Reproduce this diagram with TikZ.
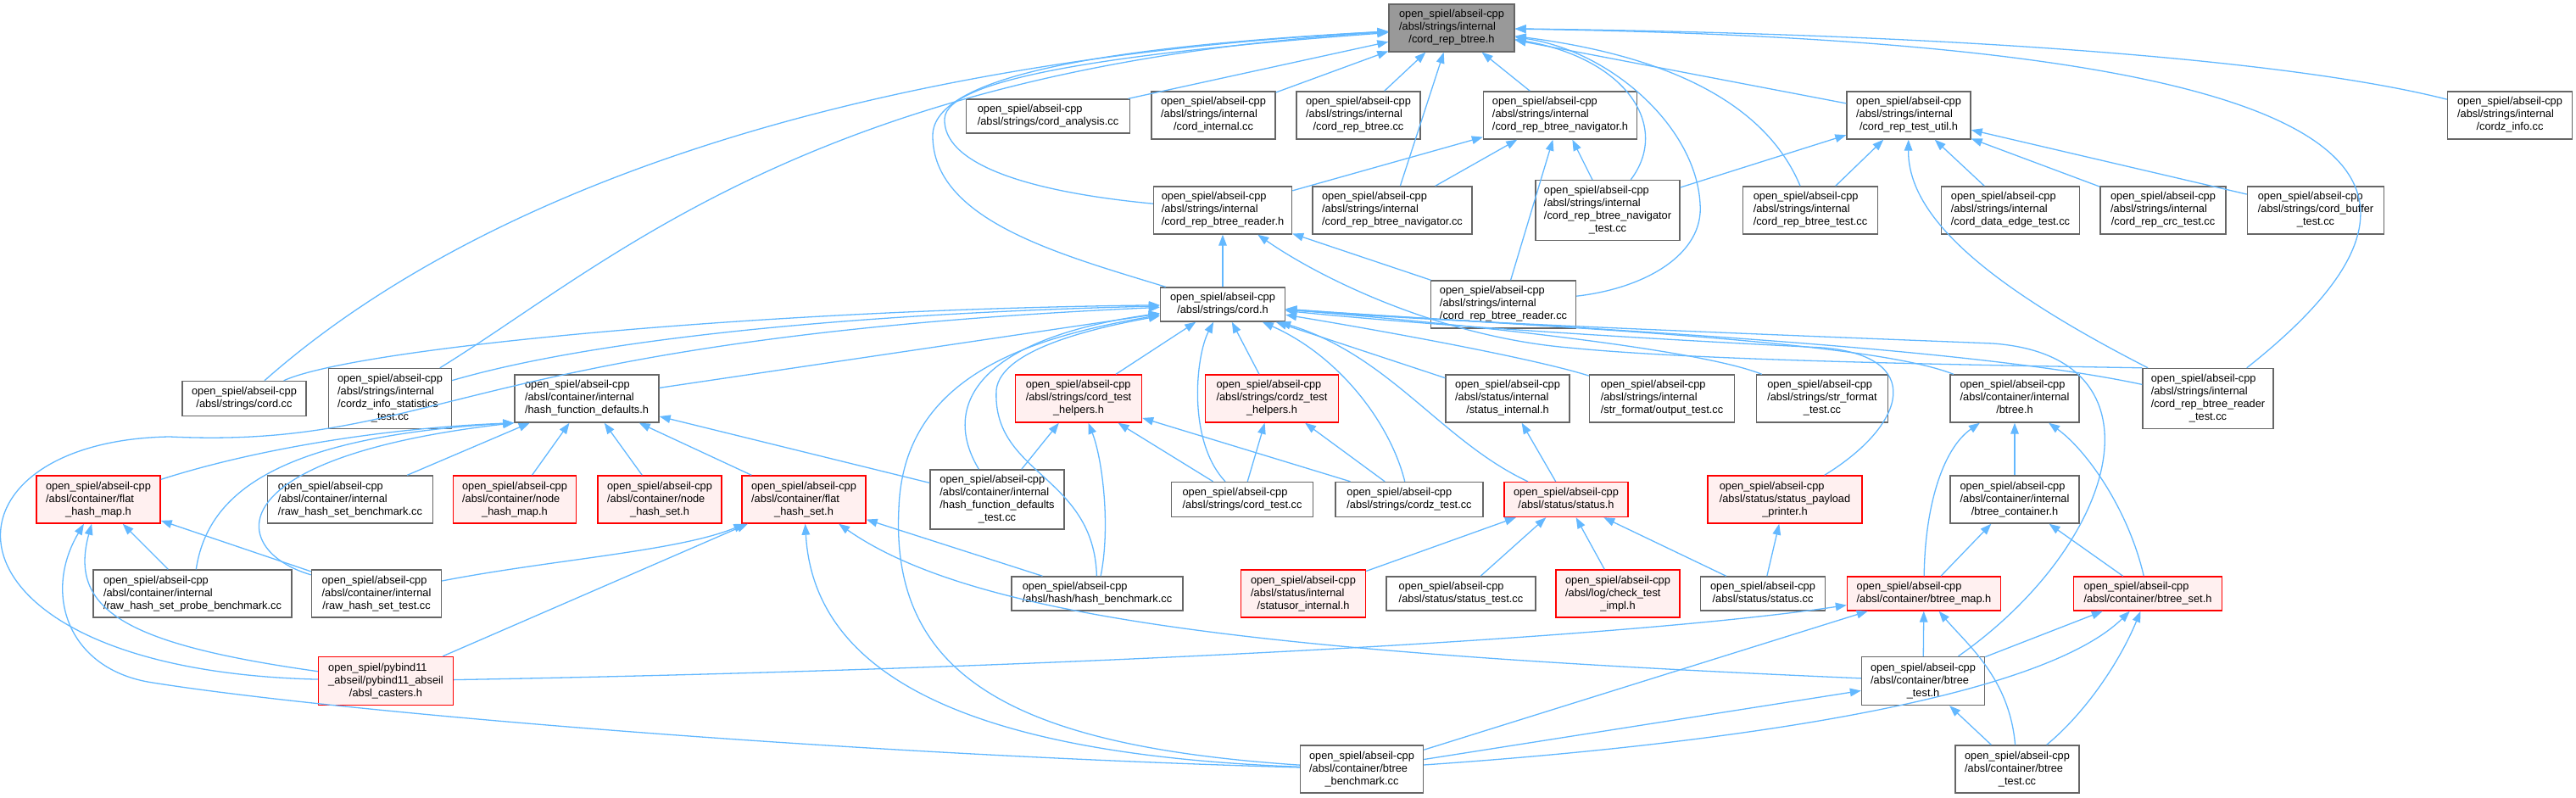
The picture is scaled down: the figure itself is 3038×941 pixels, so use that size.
\documentclass[tikz,border=0pt]{standalone}
\usepackage{fontspec}
\setmainfont{Liberation Sans}
\usepackage{tikz}
\usetikzlibrary{arrows.meta}
\definecolor{edgeblue}{RGB}{99,184,255}
\definecolor{boxgray}{RGB}{102,102,102}
\definecolor{boxred}{RGB}{255,0,0}
\definecolor{boxpink}{RGB}{255,240,240}
\definecolor{topgray}{RGB}{153,153,153}
\newcommand{\doxfont}{\fontsize{6.4}{7.5}\selectfont}
\newcommand{\flab}[2]{\begin{tabular}{@{}l@{}}#1\\\multicolumn{1}{@{}c@{}}{#2}\end{tabular}}

\begin{document}
\begin{tikzpicture}[x=0.5pt, y=-0.5pt,
        file/.style={rectangle, draw=boxgray, fill=white, line width=0.7pt, inner sep=0pt, font=\doxfont},
        redfile/.style={file, draw=boxred, fill=boxpink},
        topfile/.style={file, fill=topgray},
        sz/.style 2 args={minimum width=#1*0.5pt, minimum height=#2*0.5pt},
        dep/.style={draw=edgeblue, line width=0.65pt, -{Triangle[length=6.5pt,width=4.8pt]}}
    ]
        \useasboundingbox (0,0) rectangle (3038,941);

        % Header under study
        \node[topfile, sz={148}{56}] (top) at (1712,33) {\flab{open\_spiel/abseil-cpp\\/absl/strings/internal}{/cord\_rep\_btree.h}};

        % First row
        \node[file, sz={193}{40}] (analysis) at (1236,137) {\flab{open\_spiel/abseil-cpp}{/absl/strings/cord\_analysis.cc}};
        \node[file, sz={146}{56}] (cinternal) at (1431,136) {\flab{open\_spiel/abseil-cpp\\/absl/strings/internal}{/cord\_internal.cc}};
        \node[file, sz={146}{56}] (rbcc) at (1602,136) {\flab{open\_spiel/abseil-cpp\\/absl/strings/internal}{/cord\_rep\_btree.cc}};
        \node[file, sz={181}{56}] (navh) at (1840,136) {\flab{open\_spiel/abseil-cpp\\/absl/strings/internal}{/cord\_rep\_btree\_navigator.h}};
        \node[file, sz={146}{56}] (testutil) at (2251,136) {\flab{open\_spiel/abseil-cpp\\/absl/strings/internal}{/cord\_rep\_test\_util.h}};
        \node[file, sz={147}{56}] (czinfo) at (2960,136) {\flab{open\_spiel/abseil-cpp\\/absl/strings/internal}{/cordz\_info.cc}};

        % Second row
        \node[file, sz={163}{56}] (readerh) at (1442,248) {\flab{open\_spiel/abseil-cpp\\/absl/strings/internal}{/cord\_rep\_btree\_reader.h}};
        \node[file, sz={188}{56}] (navcc) at (1642,248) {\flab{open\_spiel/abseil-cpp\\/absl/strings/internal}{/cord\_rep\_btree\_navigator.cc}};
        \node[file, sz={170}{71}] (navtest) at (1896,248) {\flab{open\_spiel/abseil-cpp\\/absl/strings/internal\\/cord\_rep\_btree\_navigator}{\_test.cc}};
        \node[file, sz={159}{56}] (rbtest) at (2135,248) {\flab{open\_spiel/abseil-cpp\\/absl/strings/internal}{/cord\_rep\_btree\_test.cc}};
        \node[file, sz={163}{56}] (dataedge) at (2371,248) {\flab{open\_spiel/abseil-cpp\\/absl/strings/internal}{/cord\_data\_edge\_test.cc}};
        \node[file, sz={148}{56}] (crc) at (2551,248) {\flab{open\_spiel/abseil-cpp\\/absl/strings/internal}{/cord\_rep\_crc\_test.cc}};
        \node[file, sz={161}{56}] (buffer) at (2731,248) {\flab{open\_spiel/abseil-cpp\\/absl/strings/cord\_buffer}{\_test.cc}};

        % Third row
        \node[file, sz={147}{40}] (cordh) at (1442,359) {\flab{open\_spiel/abseil-cpp}{/absl/strings/cord.h}};
        \node[file, sz={171}{56}] (readercc) at (1773,359) {\flab{open\_spiel/abseil-cpp\\/absl/strings/internal}{/cord\_rep\_btree\_reader.cc}};

        % Fourth row
        \node[file, sz={146}{41}] (cordcc) at (288,470) {\flab{open\_spiel/abseil-cpp}{/absl/strings/cord.cc}};
        \node[file, sz={145}{71}] (czstats) at (460,470) {\flab{open\_spiel/abseil-cpp\\/absl/strings/internal\\/cordz\_info\_statistics}{\_test.cc}};
        \node[file, sz={170}{56}] (hfd) at (692,470) {\flab{open\_spiel/abseil-cpp\\/absl/container/internal}{/hash\_function\_defaults.h}};
        \node[redfile, sz={149}{56}] (testhelpers) at (1272,470) {\flab{open\_spiel/abseil-cpp\\/absl/strings/cord\_test}{\_helpers.h}};
        \node[redfile, sz={157}{56}] (cztesthelpers) at (1500,470) {\flab{open\_spiel/abseil-cpp\\/absl/strings/cordz\_test}{\_helpers.h}};
        \node[file, sz={146}{56}] (statusint) at (1778,470) {\flab{open\_spiel/abseil-cpp\\/absl/status/internal}{/status\_internal.h}};
        \node[file, sz={171}{56}] (outtest) at (1960,470) {\flab{open\_spiel/abseil-cpp\\/absl/strings/internal}{/str\_format/output\_test.cc}};
        \node[file, sz={155}{56}] (strfmt) at (2149,470) {\flab{open\_spiel/abseil-cpp\\/absl/strings/str\_format}{\_test.cc}};
        \node[file, sz={152}{56}] (btreeh) at (2376,470) {\flab{open\_spiel/abseil-cpp\\/absl/container/internal}{/btree.h}};
        \node[file, sz={154}{71}] (readertest) at (2604,470) {\flab{open\_spiel/abseil-cpp\\/absl/strings/internal\\/cord\_rep\_btree\_reader}{\_test.cc}};

        % Fifth row
        \node[redfile, sz={146}{56}] (fhmap) at (116,589) {\flab{open\_spiel/abseil-cpp\\/absl/container/flat}{\_hash\_map.h}};
        \node[file, sz={195}{56}] (rawbench) at (413,589) {\flab{open\_spiel/abseil-cpp\\/absl/container/internal}{/raw\_hash\_set\_benchmark.cc}};
        \node[redfile, sz={145}{56}] (nhmap) at (607,589) {\flab{open\_spiel/abseil-cpp\\/absl/container/node}{\_hash\_map.h}};
        \node[redfile, sz={146}{56}] (nhset) at (778,589) {\flab{open\_spiel/abseil-cpp\\/absl/container/node}{\_hash\_set.h}};
        \node[redfile, sz={146}{56}] (fhset) at (948,589) {\flab{open\_spiel/abseil-cpp\\/absl/container/flat}{\_hash\_set.h}};
        \node[file, sz={158}{70}] (hfdtest) at (1176,589) {\flab{open\_spiel/abseil-cpp\\/absl/container/internal\\/hash\_function\_defaults}{\_test.cc}};
        \node[file, sz={167}{41}] (cordtest) at (1465,589) {\flab{open\_spiel/abseil-cpp}{/absl/strings/cord\_test.cc}};
        \node[file, sz={174}{41}] (cztest) at (1662,589) {\flab{open\_spiel/abseil-cpp}{/absl/strings/cordz\_test.cc}};
        \node[redfile, sz={146}{41}] (statush) at (1847,589) {\flab{open\_spiel/abseil-cpp}{/absl/status/status.h}};
        \node[redfile, sz={182}{56}] (payload) at (2105,589) {\flab{open\_spiel/abseil-cpp\\/absl/status/status\_payload}{\_printer.h}};
        \node[file, sz={152}{56}] (bcontainer) at (2376,589) {\flab{open\_spiel/abseil-cpp\\/absl/container/internal}{/btree\_container.h}};

        % Sixth row
        \node[file, sz={234}{56}] (probe) at (227,700) {\flab{open\_spiel/abseil-cpp\\/absl/container/internal}{/raw\_hash\_set\_probe\_benchmark.cc}};
        \node[file, sz={153}{56}] (rawtest) at (444,700) {\flab{open\_spiel/abseil-cpp\\/absl/container/internal}{/raw\_hash\_set\_test.cc}};
        \node[file, sz={202}{40}] (hashbench) at (1294,700) {\flab{open\_spiel/abseil-cpp}{/absl/hash/hash\_benchmark.cc}};
        \node[redfile, sz={147}{56}] (statusor) at (1537,700) {\flab{open\_spiel/abseil-cpp\\/absl/status/internal}{/statusor\_internal.h}};
        \node[file, sz={176}{40}] (statustest) at (1723,700) {\flab{open\_spiel/abseil-cpp}{/absl/status/status\_test.cc}};
        \node[redfile, sz={146}{56}] (checkimpl) at (1908,700) {\flab{open\_spiel/abseil-cpp\\/absl/log/check\_test}{\_impl.h}};
        \node[file, sz={147}{40}] (statuscc) at (2079,700) {\flab{open\_spiel/abseil-cpp}{/absl/status/status.cc}};
        \node[redfile, sz={181}{40}] (bmap) at (2269,700) {\flab{open\_spiel/abseil-cpp}{/absl/container/btree\_map.h}};
        \node[redfile, sz={175}{40}] (bset) at (2533,700) {\flab{open\_spiel/abseil-cpp}{/absl/container/btree\_set.h}};

        % Bottom rows
        \node[redfile, sz={159}{57}] (casters) at (455,803) {\flab{open\_spiel/pybind11\\\_abseil/pybind11\_abseil}{/absl\_casters.h}};
        \node[file, sz={145}{57}] (btesth) at (2268,803) {\flab{open\_spiel/abseil-cpp\\/absl/container/btree}{\_test.h}};
        \node[file, sz={145}{56}] (bbench) at (1606,907) {\flab{open\_spiel/abseil-cpp\\/absl/container/btree}{\_benchmark.cc}};
        \node[file, sz={146}{56}] (btestcc) at (2379,907) {\flab{open\_spiel/abseil-cpp\\/absl/container/btree}{\_test.cc}};

        % Includes of cord_rep_btree.h
        \draw[dep] (cordcc) .. controls (480,300) and (850,80) .. (top);
        \draw[dep] (czstats) .. controls (720,310) and (960,80) .. (top);
        \draw[dep] (cordh) .. controls (1250,300) and (1100,260) .. (1100,160) .. controls (1100,90) and (1300,55) .. (top);
        \draw[dep] (readerh) .. controls (1200,225) and (1112,190) .. (1114,140) .. controls (1116,92) and (1320,62) .. (top);
        \draw[dep] (analysis) -- (top);
        \draw[dep] (cinternal) -- (top);
        \draw[dep] (rbcc) -- (top);
        \draw[dep] (navcc) -- (top);
        \draw[dep] (navh) -- (top);
        \draw[dep] (navtest) .. controls (1970,150) and (1920,70) .. (top);
        \draw[dep] (readercc) .. controls (1940,340) and (2010,300) .. (2005,240) .. controls (2000,150) and (1900,60) .. (top);
        \draw[dep] (testutil) -- (top);
        \draw[dep] (rbtest) .. controls (2090,140) and (2000,70) .. (top);
        \draw[dep] (readertest) .. controls (2920,220) and (2850,50) .. (top);
        \draw[dep] (czinfo) .. controls (2700,70) and (2300,40) .. (top);

        % Navigator, test util, reader
        \draw[dep] (readerh) -- (navh);
        \draw[dep] (navcc) -- (navh);
        \draw[dep] (navtest) -- (navh);
        \draw[dep] (readercc) -- (navh);
        \draw[dep] (navtest) -- (testutil);
        \draw[dep] (rbtest) -- (testutil);
        \draw[dep] (readertest) .. controls (2330,330) and (2250,250) .. (testutil);
        \draw[dep] (dataedge) -- (testutil);
        \draw[dep] (crc) -- (testutil);
        \draw[dep] (buffer) -- (testutil);
        \draw[dep] (cordh) -- (readerh);
        \draw[dep] (readercc) -- (readerh);
        \draw[dep] (readertest.north west) .. controls (2300,430) and (2000,425) .. (1850,410) .. controls (1700,397) and (1560,330) .. (readerh);

        % Includes of cord.h
        \draw[dep] (cordcc) .. controls (420,410) and (900,365) .. (cordh);
        \draw[dep] (czstats) .. controls (700,400) and (1000,370) .. (cordh);
        \draw[dep] (casters) .. controls (-90,790) and (-90,520) .. (200,515) .. controls (520,530) and (540,400) .. (cordh);
        \draw[dep] (hfd) -- (cordh);
        \draw[dep] (testhelpers) -- (cordh);
        \draw[dep] (hfdtest) .. controls (1110,480) and (1150,400) .. (cordh);
        \draw[dep] (hashbench) .. controls (1290,560) and (1170,560) .. (1175,460) .. controls (1180,410) and (1300,385) .. (cordh);
        \draw[dep] (bbench) .. controls (1200,880) and (1050,800) .. (1060,600) .. controls (1065,450) and (1200,400) .. (cordh);
        \draw[dep] (cordtest) .. controls (1400,520) and (1410,420) .. (cordh);
        \draw[dep] (cztesthelpers) -- (cordh);
        \draw[dep] (cztest) .. controls (1640,500) and (1580,420) .. (cordh);
        \draw[dep] (statush) .. controls (1700,520) and (1640,420) .. (cordh);
        \draw[dep] (statusint) -- (cordh);
        \draw[dep] (outtest) .. controls (1800,420) and (1600,385) .. (cordh);
        \draw[dep] (strfmt) .. controls (2000,410) and (1700,380) .. (cordh);
        \draw[dep] (btreeh) .. controls (2200,400) and (1800,385) .. (cordh);
        \draw[dep] (readertest) .. controls (2300,405) and (1800,385) .. (cordh);
        \draw[dep] (payload) .. controls (2250,500) and (2270,420) .. (2150,410) .. controls (1950,400) and (1700,385) .. (cordh);
        \draw[dep] (btesth) .. controls (2500,640) and (2560,420) .. (2350,405) .. controls (2100,395) and (1700,380) .. (cordh);

        % Hash containers
        \draw[dep] (fhmap) .. controls (300,530) and (450,505) .. (hfd.south west);
        \draw[dep] (probe) .. controls (245,580) and (330,515) .. (hfd.south west);
        \draw[dep] (rawtest) .. controls (270,650) and (250,540) .. (hfd.south west);
        \draw[dep] (rawbench) -- (hfd);
        \draw[dep] (nhmap) -- (hfd);
        \draw[dep] (nhset) -- (hfd);
        \draw[dep] (fhset) -- (hfd);
        \draw[dep] (hfdtest) -- (hfd);
        \draw[dep] (probe) -- (fhmap);
        \draw[dep] (rawtest) -- (fhmap);
        \draw[dep] (casters) .. controls (150,760) and (80,720) .. (fhmap);
        \draw[dep] (bbench) .. controls (1000,890) and (400,840) .. (180,805) .. controls (80,790) and (50,700) .. (fhmap);
        \draw[dep] (rawtest) .. controls (650,660) and (800,650) .. (fhset);
        \draw[dep] (casters) -- (fhset);
        \draw[dep] (hashbench) -- (fhset);
        \draw[dep] (btesth) .. controls (1500,770) and (1150,730) .. (fhset);
        \draw[dep] (bbench) .. controls (1150,890) and (960,800) .. (fhset);

        % Test helpers
        \draw[dep] (hfdtest) -- (testhelpers);
        \draw[dep] (hashbench) .. controls (1310,620) and (1300,540) .. (testhelpers);
        \draw[dep] (cordtest) -- (testhelpers);
        \draw[dep] (cztest) -- (testhelpers);
        \draw[dep] (cordtest) -- (cztesthelpers);
        \draw[dep] (cztest) -- (cztesthelpers);

        % Status
        \draw[dep] (statush) -- (statusint);
        \draw[dep] (statusor) -- (statush);
        \draw[dep] (statustest) -- (statush);
        \draw[dep] (checkimpl) -- (statush);
        \draw[dep] (statuscc) -- (statush);
        \draw[dep] (statuscc) -- (payload);

        % Btree
        \draw[dep] (bcontainer) -- (btreeh);
        \draw[dep] (bmap) .. controls (2270,600) and (2290,530) .. (btreeh);
        \draw[dep] (bset) .. controls (2510,600) and (2460,530) .. (btreeh);
        \draw[dep] (bmap) -- (bcontainer);
        \draw[dep] (bset) -- (bcontainer);
        \draw[dep] (casters) .. controls (1200,790) and (1900,755) .. (bmap);
        \draw[dep] (bbench) -- (bmap);
        \draw[dep] (btesth) -- (bmap);
        \draw[dep] (btestcc) .. controls (2370,800) and (2320,760) .. (bmap);
        \draw[dep] (btesth) -- (bset);
        \draw[dep] (bbench) .. controls (2000,880) and (2400,830) .. (bset);
        \draw[dep] (btestcc) .. controls (2460,840) and (2500,780) .. (bset);
        \draw[dep] (bbench) -- (btesth);
        \draw[dep] (btestcc) -- (btesth);
    \end{tikzpicture}
\end{document}
